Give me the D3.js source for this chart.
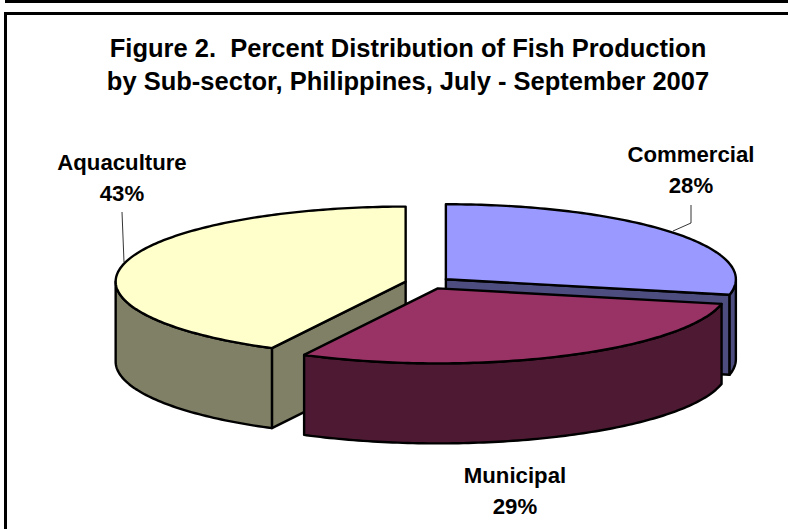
<!DOCTYPE html>
<html><head><meta charset="utf-8">
<script src="https://cdn.jsdelivr.net/npm/d3@7/dist/d3.min.js"></script>
<style>html,body{margin:0;padding:0;background:#fff}svg{display:block}
text{font-family:"Liberation Sans",Arial,sans-serif;font-weight:bold;fill:#000;white-space:pre}</style>
</head><body><div id="chart"></div>
<script>
const categories = ["Commercial", "Municipal", "Aquaculture"];
const values = [28.4, 29.4, 42.5];
const topColors = ["#9999FF", "#993366", "#FFFFCC"];
const sideColors = ["#4D4D80", "#4D1933", "#808066"];
const titleLines = ["Figure 2.  Percent Distribution of Fish Production", "by Sub-sector, Philippines, July - September 2007"];

const W = 788, H = 529;
const svg = d3.select("#chart").append("svg").attr("width", W).attr("height", H);

// frame
svg.append("rect").attr("x", 5).attr("y", 0).attr("width", W - 5).attr("height", 3).attr("fill", "#000");
svg.append("path").attr("d", `M5.5,${H}V13.5H${W}`).attr("fill", "none").attr("stroke", "#000").attr("stroke-width", 3);

// titles
svg.selectAll("text.title").data(titleLines).join("text").attr("class", "title")
  .attr("x", 408).attr("y", (d, i) => 56.5 + i * 33).attr("text-anchor", "middle")
  .attr("font-size", 25.5).text(d => d);

// pie geometry: tilted disc
const cx = 428, cy = 283, rx = 290, ry = 75, depth = 80, explode = 23;
const sx = d3.scaleLinear().domain([-1, 1]).range([cx - rx, cx + rx]);
const sy = d3.scaleLinear().domain([-1, 1]).range([cy - ry, cy + ry]);
const pie = d3.pie().sort(null).value(d => d);
const arcs = pie(values);
const line = d3.line().x(d => d[0]).y(d => d[1]);
const RIM_STEP = Math.PI / 180;

const order = [0, 2, 1]; // back to front
order.forEach(i => {
  const a = arcs[i];
  const mid = (a.startAngle + a.endAngle) / 2;
  const ox = sx(Math.sin(mid) * explode / rx) - cx;
  const oy = sy(-Math.cos(mid) * explode / rx) - cy;
  const P = (ang, r = 1, dz = 0) => [sx(Math.sin(ang) * r) + ox, sy(-Math.cos(ang) * r) + oy + dz];
  const rim = (a0, a1, dz = 0) => d3.range(0, 1.0001, RIM_STEP / (a1 - a0)).map(t => P(a0 + (a1 - a0) * t, 1, dz)).concat([P(a1, 1, dz)]);
  const g = svg.append("g");
  const st = sel => sel.attr("stroke", "#000").attr("stroke-width", 2.4).attr("stroke-linejoin", "round");

  // radial cut faces visible from the viewer
  [a.startAngle, a.endAngle].forEach(ang => {
    const facingFront = (ang === a.endAngle) ? Math.sin(ang) > 0 : Math.sin(ang) < 0;
    if (!facingFront) return;
    const pts = [P(ang, 0), P(ang, 1), P(ang, 1, depth), P(ang, 0, depth)];
    g.append("path").attr("d", line(pts) + "Z").attr("fill", sideColors[i]).call(st);
  });
  // outer wall: only the lower half of the rim
  const w0 = Math.max(a.startAngle, Math.PI / 2), w1 = Math.min(a.endAngle, 3 * Math.PI / 2);
  if (w1 > w0) {
    const pts = rim(w0, w1).concat(rim(w0, w1, depth).reverse());
    g.append("path").attr("d", line(pts) + "Z").attr("fill", sideColors[i]).call(st);
  }
  // top face
  const topPts = [P(a.startAngle, 0)].concat(rim(a.startAngle, a.endAngle));
  g.append("path").attr("d", line(topPts) + "Z").attr("fill", topColors[i]).call(st);
});

// leaders
const leaders = [
  [[691, 205], [691, 223], [673, 231]],
  [[122, 212], [124, 262]]
];
leaders.forEach(l => svg.append("path").attr("d", line(l)).attr("fill", "none").attr("stroke", "#000").attr("stroke-width", 0.8));

// labels
const labelPos = [[691, 162], [515, 483], [122, 170]];
categories.forEach((c, i) => {
  const t = svg.append("text").attr("text-anchor", "middle").attr("font-size", 22.2);
  t.append("tspan").attr("x", labelPos[i][0]).attr("y", labelPos[i][1]).text(c);
  t.append("tspan").attr("x", labelPos[i][0]).attr("y", labelPos[i][1] + 30.5).text(Math.round(values[i]) + "%");
});
</script></body></html>
